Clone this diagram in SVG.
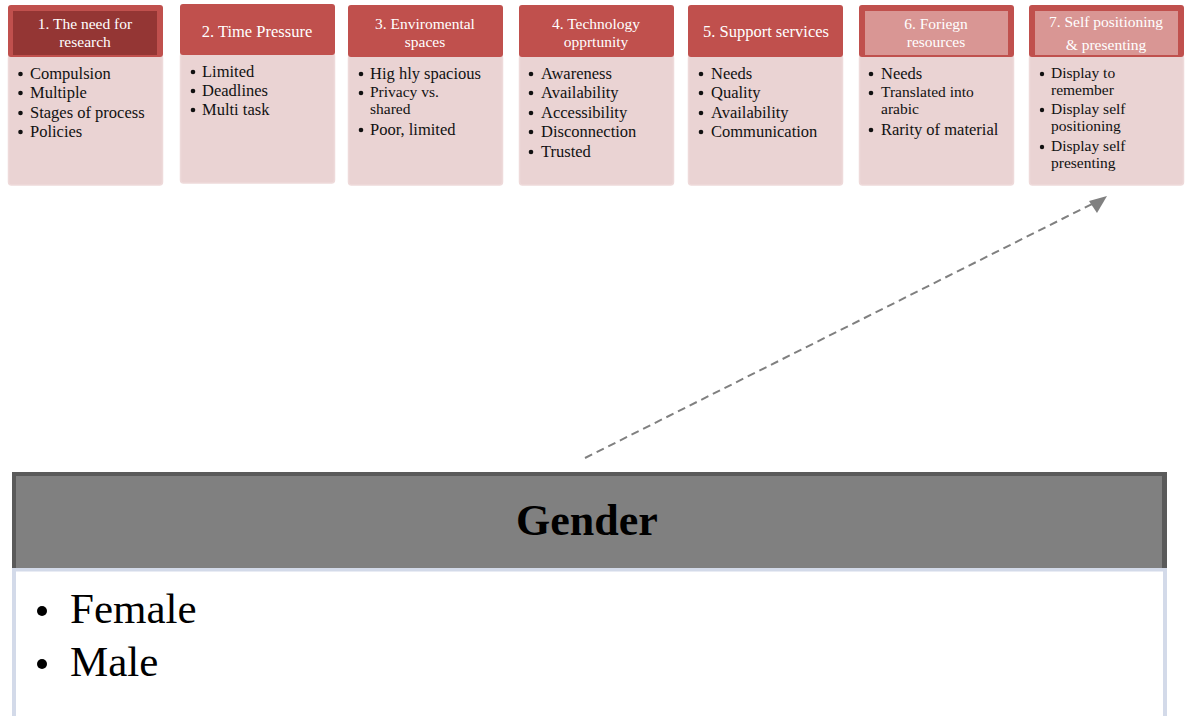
<svg xmlns="http://www.w3.org/2000/svg" width="1190" height="716" viewBox="0 0 1190 716">
<defs>
<style>
.hd{fill:#C0504D;}
.in1{fill:#943634;}
.in2{fill:#D99694;}
.bd{fill:#EAD3D3;stroke:#EEDADA;stroke-width:1.5;}
.ht{font-family:"Liberation Serif","Times New Roman",serif;font-size:15.5px;fill:#FFFFFF;text-anchor:middle;}
.ht1{font-family:"Liberation Serif","Times New Roman",serif;font-size:16.5px;fill:#FFFFFF;text-anchor:middle;}
.bt{font-family:"Liberation Serif","Times New Roman",serif;font-size:16.5px;fill:#111111;}
.bw{font-family:"Liberation Serif","Times New Roman",serif;font-size:15.5px;fill:#111111;}
.bt7{font-family:"Liberation Serif","Times New Roman",serif;font-size:15.5px;fill:#111111;}
.dot{fill:#111111;}
.conn{stroke:#808080;stroke-width:2;stroke-dasharray:8,5;fill:none;}
</style>
</defs>
<rect width="1190" height="716" fill="#FFFFFF"/>

<g id="node1">
<rect class="bd" x="8.5" y="55" width="154" height="130" rx="3"/>
<rect class="hd" x="8" y="5" width="155" height="52" rx="3"/>
<rect class="in1" x="13" y="11" width="144" height="44"/>
<text class="ht" x="85" y="29">1. The need for</text>
<text class="ht" x="85" y="47">research</text>
<circle class="dot" cx="20.5" cy="74" r="2.3"/><text class="bt" x="30" y="79">Compulsion</text>
<circle class="dot" cx="20.5" cy="93" r="2.3"/><text class="bt" x="30" y="98">Multiple</text>
<circle class="dot" cx="20.5" cy="113" r="2.3"/><text class="bt" x="30" y="118">Stages of process</text>
<circle class="dot" cx="20.5" cy="132" r="2.3"/><text class="bt" x="30" y="137">Policies</text>
</g>

<g id="node2">
<rect class="bd" x="180.5" y="53" width="154" height="130" rx="3"/>
<rect class="hd" x="180" y="4" width="155" height="51" rx="3"/>
<text class="ht1" x="257" y="37">2. Time Pressure</text>
<circle class="dot" cx="193" cy="72" r="2.3"/><text class="bt" x="202" y="77">Limited</text>
<circle class="dot" cx="193" cy="91" r="2.3"/><text class="bt" x="202" y="96">Deadlines</text>
<circle class="dot" cx="193" cy="110" r="2.3"/><text class="bt" x="202" y="115">Multi task</text>
</g>

<g id="node3">
<rect class="bd" x="348.5" y="55" width="154" height="130" rx="3"/>
<rect class="hd" x="348" y="5" width="155" height="52" rx="3"/>
<text class="ht" x="425" y="29">3. Enviromental</text>
<text class="ht" x="425" y="47">spaces</text>
<circle class="dot" cx="361" cy="74" r="2.3"/><text class="bt" x="370" y="79">Hig hly spacious</text>
<circle class="dot" cx="361" cy="93" r="2.3"/><text class="bw" x="370" y="97">Privacy vs.</text>
<text class="bw" x="370" y="114">shared</text>
<circle class="dot" cx="361" cy="130" r="2.3"/><text class="bt" x="370" y="135">Poor, limited</text>
</g>

<g id="node4">
<rect class="bd" x="519.5" y="55" width="154" height="130" rx="3"/>
<rect class="hd" x="519" y="5" width="155" height="52" rx="3"/>
<text class="ht" x="596" y="29">4. Technology</text>
<text class="ht" x="596" y="47">opprtunity</text>
<circle class="dot" cx="531" cy="74" r="2.3"/><text class="bt" x="541" y="79">Awareness</text>
<circle class="dot" cx="531" cy="93" r="2.3"/><text class="bt" x="541" y="98">Availability</text>
<circle class="dot" cx="531" cy="113" r="2.3"/><text class="bt" x="541" y="118">Accessibility</text>
<circle class="dot" cx="531" cy="132" r="2.3"/><text class="bt" x="541" y="137">Disconnection</text>
<circle class="dot" cx="531" cy="152" r="2.3"/><text class="bt" x="541" y="157">Trusted</text>
</g>

<g id="node5">
<rect class="bd" x="688.5" y="55" width="154" height="130" rx="3"/>
<rect class="hd" x="688" y="5" width="155" height="52" rx="3"/>
<text class="ht1" x="766" y="37">5. Support services</text>
<circle class="dot" cx="701" cy="74" r="2.3"/><text class="bt" x="711" y="79">Needs</text>
<circle class="dot" cx="701" cy="93" r="2.3"/><text class="bt" x="711" y="98">Quality</text>
<circle class="dot" cx="701" cy="113" r="2.3"/><text class="bt" x="711" y="118">Availability</text>
<circle class="dot" cx="701" cy="132" r="2.3"/><text class="bt" x="711" y="137">Communication</text>
</g>

<g id="node6">
<rect class="bd" x="859.5" y="55" width="154" height="130" rx="3"/>
<rect class="hd" x="859" y="5" width="155" height="52" rx="3"/>
<rect class="in2" x="865" y="11" width="143" height="44"/>
<text class="ht" x="936" y="29">6. Foriegn</text>
<text class="ht" x="936" y="47">resources</text>
<circle class="dot" cx="871" cy="74" r="2.3"/><text class="bt" x="881" y="79">Needs</text>
<circle class="dot" cx="871" cy="93" r="2.3"/><text class="bw" x="881" y="97">Translated into</text>
<text class="bw" x="881" y="114">arabic</text>
<circle class="dot" cx="871" cy="130" r="2.3"/><text class="bt" x="881" y="135">Rarity of material</text>
</g>

<g id="node7">
<rect class="bd" x="1029.5" y="55" width="154" height="130" rx="3"/>
<rect class="hd" x="1029" y="5" width="155" height="52" rx="3"/>
<rect class="in2" x="1035" y="11" width="143" height="44"/>
<text class="ht" x="1106" y="27">7. Self positioning</text>
<text class="ht" x="1106" y="50">&amp; presenting</text>
<circle class="dot" cx="1042" cy="74" r="2.2"/><text class="bt7" x="1051" y="78">Display to</text>
<text class="bt7" x="1051" y="95">remember</text>
<circle class="dot" cx="1042" cy="110" r="2.2"/><text class="bt7" x="1051" y="114">Display self</text>
<text class="bt7" x="1051" y="131">positioning</text>
<circle class="dot" cx="1042" cy="147" r="2.2"/><text class="bt7" x="1051" y="151">Display self</text>
<text class="bt7" x="1051" y="168">presenting</text>
</g>

<g id="gender">
<rect x="14" y="569.5" width="1151" height="150" fill="#FFFFFF" stroke="#D3DAE9" stroke-width="4"/>
<rect x="12" y="472" width="1155" height="96" fill="#5A5A5A"/>
<rect x="16" y="476" width="1146" height="92" fill="#808080"/>
<text x="587" y="535" font-family="'Liberation Serif','Times New Roman',serif" font-size="44" font-weight="bold" fill="#000000" text-anchor="middle">Gender</text>
<circle cx="42" cy="611" r="5" fill="#000000"/>
<text x="70" y="623" font-family="'Liberation Serif','Times New Roman',serif" font-size="43" fill="#000000">Female</text>
<circle cx="42" cy="664" r="5" fill="#000000"/>
<text x="70" y="676" font-family="'Liberation Serif','Times New Roman',serif" font-size="43" fill="#000000">Male</text>
</g>

<g id="connectors">
<line class="conn" x1="585" y1="458" x2="1092" y2="204"/>
<path d="M1107,196 L1089,201 L1097,213 z" fill="#808080"/>
</g>
</svg>
